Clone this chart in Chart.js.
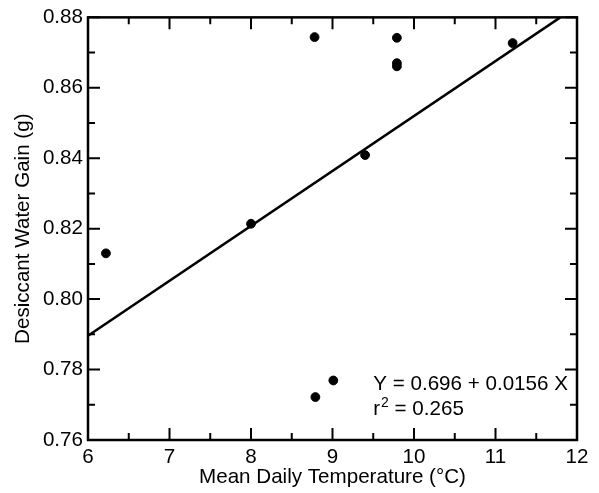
<!DOCTYPE html>
<html>
<head>
<meta charset="utf-8">
<script src="https://cdn.jsdelivr.net/npm/chart.js@4.4.1/dist/chart.umd.min.js"></script>
<style>
  body { margin: 0; background: #fff; }
  #wrap { width: 599px; height: 493px; }
</style>
</head>
<body>
<div id="wrap"><canvas id="chart"></canvas></div>
<script>
const tempX = [6.22, 8.0, 8.78, 9.79, 9.79, 9.79, 9.4, 11.21, 8.79, 9.01];
const gainY = [0.813, 0.8214, 0.8744, 0.8742, 0.867, 0.8661, 0.8409, 0.8727, 0.7722, 0.7769];

// fitted line endpoints, Y = 0.696 + 0.0156 X
const fitX = [6, 11.795];
const fitY = [0.7896, 0.88];

const xMajor = [6, 7, 8, 9, 10, 11, 12];
const xMinor = [6.5, 7.5, 8.5, 9.5, 10.5, 11.5];
const yMajor = [0.76, 0.78, 0.80, 0.82, 0.84, 0.86, 0.88];
const yMinor = [0.77, 0.79, 0.81, 0.83, 0.85, 0.87];

const eqLine = "Y = 0.696 + 0.0156 X";
const r2Text = " = 0.265";

const FONT = "'Liberation Sans', Arial, Helvetica, sans-serif";
const FS = 20.6;
Chart.defaults.font.family = FONT;
Chart.defaults.color = "#000";

// frame + inward ticks on all four sides, plus the equation text
const framePlugin = {
  id: "frame",
  afterDatasetsDraw(chart) {
    const { ctx, chartArea: a, scales } = chart;
    const xs = scales.x, ys = scales.y;
    ctx.save();
    ctx.strokeStyle = "#000";
    ctx.lineWidth = 2;
    const tick = (vals, len) => {
      vals.forEach(v => {
        const px = xs.getPixelForValue(v);
        ctx.beginPath();
        ctx.moveTo(px, a.bottom); ctx.lineTo(px, a.bottom - len);
        ctx.moveTo(px, a.top); ctx.lineTo(px, a.top + len);
        ctx.stroke();
      });
    };
    const ytick = (vals, len) => {
      vals.forEach(v => {
        const py = ys.getPixelForValue(v);
        ctx.beginPath();
        ctx.moveTo(a.left, py); ctx.lineTo(a.left + len, py);
        ctx.moveTo(a.right, py); ctx.lineTo(a.right - len, py);
        ctx.stroke();
      });
    };
    tick(xMajor, 12); tick(xMinor, 7);
    ytick(yMajor, 12); ytick(yMinor, 7);
    ctx.lineWidth = 2.5;
    ctx.strokeRect(a.left, a.top, a.right - a.left, a.bottom - a.top);

    // equation
    ctx.fillStyle = "#000";
    ctx.textBaseline = "alphabetic";
    ctx.textAlign = "left";
    const tx = xs.getPixelForValue(9.5);
    const ty = ys.getPixelForValue(0.7741);
    ctx.font = FS + "px " + FONT;
    ctx.fillText(eqLine, tx, ty);
    ctx.fillText("r", tx, ty + 25);
    const rw = ctx.measureText("r").width;
    ctx.font = "14px " + FONT;
    ctx.fillText("2", tx + rw + 1, ty + 17);
    const sw = ctx.measureText("2").width;
    ctx.font = FS + "px " + FONT;
    ctx.fillText(r2Text, tx + rw + sw + 1, ty + 25);
    ctx.restore();
  }
};

new Chart(document.getElementById("chart"), {
  type: "scatter",
  data: {
    datasets: [
      {
        data: tempX.map((x, i) => ({ x, y: gainY[i] })),
        backgroundColor: "#000",
        borderColor: "#000",
        pointRadius: 4.4,
        pointHoverRadius: 4.4
      },
      {
        data: fitX.map((x, i) => ({ x, y: fitY[i] })),
        showLine: true,
        borderColor: "#000",
        borderWidth: 2.5,
        pointRadius: 0,
        fill: false
      }
    ]
  },
  options: {
    responsive: true,
    maintainAspectRatio: false,
    animation: false,
    layout: { padding: { top: 15, right: 22, left: 0, bottom: 0 } },
    plugins: { legend: { display: false }, tooltip: { enabled: false } },
    scales: {
      x: {
        type: "linear",
        min: 6, max: 12,
        afterFit: s => { s.height = 53; },
        afterBuildTicks: s => { s.ticks = xMajor.map(v => ({ value: v })); },
        grid: { display: false, drawTicks: false },
        border: { display: false },
        ticks: { font: { size: FS }, color: "#000", padding: 5, maxRotation: 0 },
        title: {
          display: true,
          text: "Mean Daily Temperature (°C)",
          font: { size: FS },
          color: "#000",
          padding: { top: 0, bottom: 3 }
        }
      },
      y: {
        type: "linear",
        min: 0.76, max: 0.88,
        afterFit: s => { s.width = 88; },
        afterBuildTicks: s => { s.ticks = yMajor.map(v => ({ value: v })); },
        grid: { display: false, drawTicks: false },
        border: { display: false },
        ticks: {
          font: { size: FS }, color: "#000", padding: 5,
          callback: v => Number(v).toFixed(2)
        },
        title: {
          display: true,
          text: "Desiccant Water Gain (g)",
          font: { size: FS },
          color: "#000",
          padding: { top: 11, bottom: 0 }
        }
      }
    }
  },
  plugins: [framePlugin]
});
</script>
</body>
</html>
